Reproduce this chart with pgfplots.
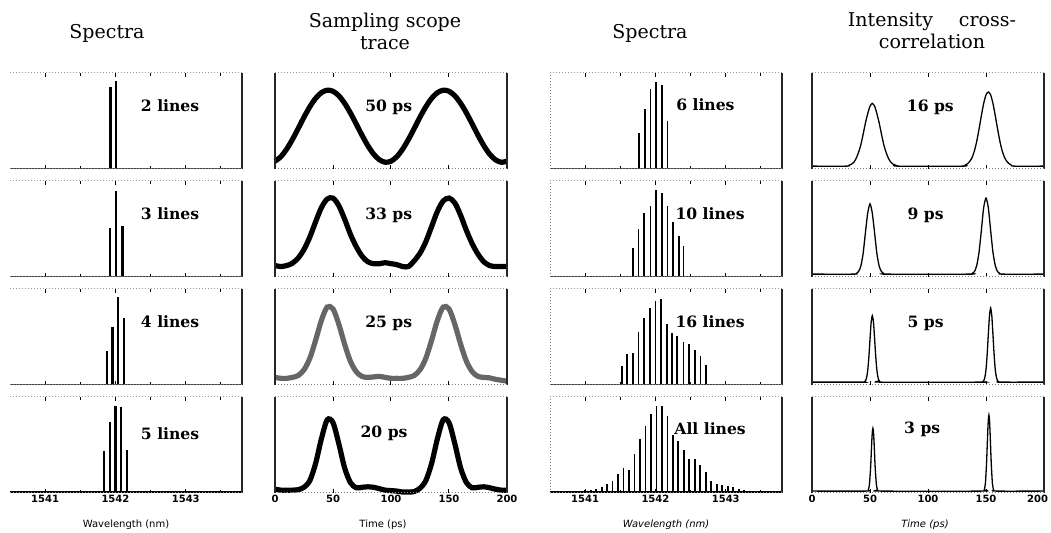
\documentclass[border=0pt]{standalone}
\usepackage{fontspec}
\setmainfont{DejaVu Serif}
\newfontfamily\dvsans{DejaVu Sans}
\usepackage{pgfplots}
\pgfplotsset{compat=1.18}

% one panel = 232 x 96 px of the reference (1 px = 0.5pt)
\pgfplotsset{
  panel/.style={
    scale only axis, width=116pt, height=48pt, anchor=south west,
    ymin=-0.01, ymax=1.0, ytick=\empty,
    axis line style={draw=none},
    tick align=inside, major tick length=2pt, minor tick length=1.5pt,
    tick style={black, line width=0.5pt},
    xticklabel style={font=\dvsans\bfseries\fontsize{5}{6}\selectfont, inner sep=1pt},
    /pgf/number format/assume math mode=true,
    xticklabels={}, clip=false,
  },
  spec/.style={panel, xmin=1540.5, xmax=1543.8, xtick={1541,1542,1543},
    minor xtick={1541.5,1542.5,1543.5}},
  time/.style={panel, xmin=0, xmax=200, xtick={0,50,100,150,200}},
  frR/.style={extra description/.append code={
      \draw[black!85, line width=0.6pt] (1,0) -- (1,1);
      \draw[black!40, densely dotted, line width=0.5pt] (0,1) -- (1,1);
      \draw[black!50, densely dotted, line width=0.5pt] (0,0) -- (1,0);}},
  frL/.style={extra description/.append code={
      \draw[black!85, line width=0.6pt] (0,0) -- (0,1);}},
  frLd/.style={extra description/.append code={
      \draw[black!50, densely dotted, line width=0.5pt] (0,0) -- (0,1);}},
  comb/.style={ycomb, black, line width=0.9pt, mark=none},
  combw/.style={ycomb, black, line width=1.2pt, mark=none},
  base/.style={black!75, line width=0.4pt},
  scope/.style={black, line width=2.6pt, smooth, mark=none},
  xcor/.style={black, line width=0.65pt, smooth, tension=0.4, mark=none},
}
\tikzset{lab/.style={font=\bfseries\fontsize{7.8}{8}\selectfont, inner sep=0pt}}

\begin{document}
\begin{tikzpicture}
\useasboundingbox (0,0) rectangle (525.5pt,266.5pt);

% column titles
\node[font=\fontsize{9.5}{11}\selectfont] at (53.5pt,250pt) {Spectra};
\node[font=\fontsize{9.5}{11}\selectfont, align=center] at (192.5pt,251pt) {Sampling scope\\trace};
\node[font=\fontsize{9.5}{11}\selectfont] at (325pt,250pt) {Spectra};
\node[font=\fontsize{9.5}{11}\selectfont, align=center] at (466pt,251pt) {Intensity\hspace{13pt}cross-\\correlation};

% x labels
\node[font=\dvsans\fontsize{5}{6}\selectfont] at (63pt,4pt) {Wavelength (nm)};
\node[font=\dvsans\fontsize{5}{6}\selectfont] at (191.5pt,4pt) {Time (ps)};
\node[font=\dvsans\itshape\fontsize{5}{6}\selectfont] at (333pt,4pt) {Wavelength (nm)};
\node[font=\dvsans\itshape\fontsize{5}{6}\selectfont] at (462.5pt,4pt) {Time (ps)};

%%%%%%%% column 1: spectra
\begin{axis}[spec, frR, at={(5pt,182pt)}]
\addplot[base] coordinates {(1540.5,0) (1543.8,0)};
\addplot[combw] coordinates {(1541.93,0.85) (1542.01,0.92)};
\node[lab] at (rel axis cs:0.69,0.66) {2 lines};
\end{axis}
\begin{axis}[spec, frR, at={(5pt,128pt)}]
\addplot[base] coordinates {(1540.5,0) (1543.8,0)};
\addplot[combw] coordinates {(1541.92,0.51) (1542.01,0.89) (1542.10,0.53)};
\node[lab] at (rel axis cs:0.69,0.66) {3 lines};
\end{axis}
\begin{axis}[spec, frR, at={(5pt,74pt)}]
\addplot[base] coordinates {(1540.5,0) (1543.8,0)};
\addplot[combw] coordinates {(1541.88,0.35) (1541.96,0.60) (1542.04,0.92) (1542.12,0.70)};
\node[lab] at (rel axis cs:0.69,0.66) {4 lines};
\end{axis}
\begin{axis}[spec, frR, at={(5pt,20pt)}, xticklabels={1541,1542,1543}]
\addplot[black, line width=0.6pt] coordinates {(1540.5,0) (1543.8,0)};
\addplot[combw] coordinates {(1541.84,0.43) (1541.92,0.74) (1542.00,0.91) (1542.08,0.89) (1542.16,0.44)};
\node[lab] at (rel axis cs:0.69,0.62) {5 lines};
\end{axis}

%%%%%%%% column 2: sampling scope trace
\begin{axis}[time, frR, frL, at={(137.5pt,182pt)}]
\addplot[scope] coordinates {
(0,0.072) (5,0.119) (10,0.198) (15,0.300) (20,0.416) (25,0.535) (30,0.644) (35,0.733)
(40,0.793) (45,0.819) (50,0.808) (55,0.761) (60,0.682) (65,0.580) (70,0.464) (75,0.345)
(80,0.236) (85,0.147) (90,0.087) (95,0.061) (100,0.072) (105,0.119) (110,0.198) (115,0.300)
(120,0.416) (125,0.535) (130,0.644) (135,0.733) (140,0.793) (145,0.819) (150,0.808)
(155,0.761) (160,0.682) (165,0.580) (170,0.464) (175,0.345) (180,0.236) (185,0.147)
(190,0.087) (195,0.061) (200,0.072)};
\node[lab] at (rel axis cs:0.49,0.64) {50 ps};
\end{axis}
\begin{axis}[time, frR, frL, at={(137.5pt,128pt)}]
\addplot[scope] coordinates {
(0,0.11) (5,0.10) (10,0.11) (15,0.135) (20,0.19) (25,0.28) (30,0.41) (35,0.57) (40,0.72)
(45,0.81) (50,0.82) (55,0.74) (60,0.60) (65,0.44) (70,0.31) (75,0.21) (80,0.15) (85,0.13)
(90,0.13) (95,0.14) (100,0.13) (105,0.12) (110,0.10) (115,0.10) (120,0.16) (125,0.24)
(130,0.36) (135,0.52) (140,0.68) (145,0.79) (150,0.82) (155,0.77) (160,0.64) (165,0.48)
(170,0.34) (175,0.23) (180,0.15) (185,0.11) (190,0.10) (195,0.10) (200,0.10)};
\node[lab] at (rel axis cs:0.49,0.64) {33 ps};
\end{axis}
\begin{axis}[time, frR, frL, at={(137.5pt,74pt)}]
\addplot[scope, black!60] coordinates {
(0,0.07) (5,0.06) (10,0.06) (15,0.07) (20,0.09) (25,0.15) (30,0.27) (35,0.46) (40,0.67)
(45,0.81) (50,0.79) (55,0.63) (60,0.42) (65,0.24) (70,0.13) (75,0.08) (80,0.07) (85,0.075)
(90,0.08) (95,0.07) (100,0.06) (105,0.06) (110,0.06) (115,0.07) (120,0.09) (125,0.15)
(130,0.27) (135,0.46) (140,0.67) (145,0.81) (150,0.79) (155,0.63) (160,0.42) (165,0.24)
(170,0.13) (175,0.08) (180,0.07) (185,0.065) (190,0.05) (195,0.04) (200,0.03)};
\node[lab] at (rel axis cs:0.49,0.64) {25 ps};
\end{axis}
\begin{axis}[time, frR, frL, at={(137.5pt,20pt)}, xticklabels={0,50,100,150,200}]
\addplot[scope] coordinates {
(0,0.03) (5,0.02) (10,0.02) (15,0.02) (20,0.025) (25,0.05) (30,0.12) (35,0.30) (40,0.56)
(45,0.76) (50,0.73) (55,0.51) (60,0.255) (65,0.10) (70,0.045) (75,0.05) (80,0.055)
(85,0.05) (90,0.035) (95,0.02) (100,0.015) (105,0.01) (110,0.0) (115,0.0) (120,0.005)
(125,0.04) (130,0.12) (135,0.30) (140,0.56) (145,0.76) (150,0.73) (155,0.51) (160,0.255)
(165,0.10) (170,0.045) (175,0.05) (180,0.055) (185,0.045) (190,0.03) (195,0.02) (200,0.02)};
\node[lab] at (rel axis cs:0.47,0.62) {20 ps};
\end{axis}

%%%%%%%% column 3: spectra
\begin{axis}[spec, frR, frLd, at={(275pt,182pt)}]
\addplot[base] coordinates {(1540.5,0) (1543.8,0)};
\addplot[comb] coordinates {(1541.77,0.37) (1541.85,0.62) (1541.93,0.83) (1542.01,0.90)
 (1542.09,0.87) (1542.17,0.49)};
\node[lab] at (rel axis cs:0.67,0.67) {6 lines};
\end{axis}
\begin{axis}[spec, frR, frLd, at={(275pt,128pt)}]
\addplot[base] coordinates {(1540.5,0) (1543.8,0)};
\addplot[comb] coordinates {(1541.68,0.29) (1541.76,0.49) (1541.84,0.66) (1541.93,0.74)
 (1542.01,0.90) (1542.09,0.87) (1542.17,0.74) (1542.25,0.57) (1542.33,0.42) (1542.40,0.32)};
\node[lab] at (rel axis cs:0.69,0.66) {10 lines};
\end{axis}
\begin{axis}[spec, frR, frLd, at={(275pt,74pt)}]
\addplot[base] coordinates {(1540.5,0) (1543.8,0)};
\addplot[comb] coordinates {(1541.52,0.19) (1541.60,0.32) (1541.68,0.33) (1541.76,0.55)
 (1541.84,0.70) (1541.92,0.80) (1542.00,0.87) (1542.08,0.89) (1542.16,0.63) (1542.24,0.54)
 (1542.31,0.51) (1542.40,0.44) (1542.48,0.42) (1542.56,0.36) (1542.64,0.29) (1542.72,0.20)};
\node[lab] at (rel axis cs:0.69,0.66) {16 lines};
\end{axis}
\begin{axis}[spec, frR, frLd, at={(275pt,20pt)}, xticklabels={1541,1542,1543}]
\addplot[black, line width=0.6pt] coordinates {(1540.5,0) (1543.8,0)};
\addplot[comb] coordinates {(1541.000,0.02) (1541.078,0.025) (1541.156,0.035) (1541.234,0.05)
 (1541.312,0.087) (1541.390,0.12) (1541.468,0.19) (1541.546,0.25) (1541.624,0.23)
 (1541.702,0.40) (1541.780,0.56) (1541.858,0.69) (1541.936,0.82) (1542.014,0.91)
 (1542.092,0.91) (1542.170,0.80) (1542.248,0.60) (1542.326,0.54) (1542.404,0.44)
 (1542.482,0.35) (1542.560,0.35) (1542.638,0.28) (1542.716,0.21) (1542.794,0.115)
 (1542.872,0.087) (1542.950,0.07) (1543.028,0.06) (1543.106,0.05) (1543.184,0.035)
 (1543.262,0.025)};
\node[lab] at (rel axis cs:0.69,0.67) {All lines};
\end{axis}

%%%%%%%% column 4: intensity cross-correlation
\begin{axis}[time, frR, frL, at={(406pt,182pt)}]
\addplot[xcor] coordinates {
(0,0.02) (30,0.02) (32,0.03) (34,0.04) (36,0.06) (38,0.10) (40,0.16) (42,0.24) (44,0.35)
(46,0.47) (48,0.57) (50,0.65) (52,0.68) (54,0.65) (56,0.57) (58,0.47) (60,0.35) (62,0.24)
(64,0.16) (66,0.10) (68,0.06) (70,0.04) (72,0.03) (74,0.02) (130,0.02) (132,0.03)
(134,0.045) (136,0.07) (138,0.11) (140,0.18) (142,0.28) (144,0.41) (146,0.55) (148,0.68)
(150,0.77) (152,0.80) (154,0.77) (156,0.68) (158,0.55) (160,0.41) (162,0.28) (164,0.18)
(166,0.11) (168,0.07) (170,0.045) (172,0.03) (174,0.02) (200,0.02)};
\node[lab] at (rel axis cs:0.51,0.64) {16 ps};
\end{axis}
\begin{axis}[time, frR, frL, at={(406pt,128pt)}]
\addplot[xcor] coordinates {
(0,0.02) (36,0.02) (38,0.025) (40,0.045) (42,0.10) (44,0.23) (46,0.45) (48,0.66) (50,0.76)
(52,0.66) (54,0.45) (56,0.23) (58,0.10) (60,0.045) (62,0.025) (64,0.02) (136,0.02)
(138,0.026) (140,0.046) (142,0.11) (144,0.25) (146,0.48) (148,0.72) (150,0.82) (152,0.72)
(154,0.48) (156,0.25) (158,0.11) (160,0.046) (162,0.026) (164,0.02) (200,0.02)};
\node[lab] at (rel axis cs:0.49,0.64) {9 ps};
\end{axis}
\begin{axis}[time, frR, frL, at={(406pt,74pt)}]
\addplot[xcor] coordinates {
(0,0.02) (44,0.02) (45,0.02) (46,0.033) (47,0.063) (48,0.14) (49,0.28) (50,0.47) (51,0.65)
(52,0.72) (53,0.65) (54,0.47) (55,0.28) (56,0.14) (57,0.063) (58,0.033) (59,0.02) (146,0.02)
(147,0.023) (148,0.034) (149,0.07) (150,0.15) (151,0.31) (152,0.52) (153,0.72) (154,0.80)
(155,0.72) (156,0.52) (157,0.31) (158,0.15) (159,0.07) (160,0.034) (161,0.023) (162,0.02)
(200,0.02)};
\node[lab] at (rel axis cs:0.49,0.64) {5 ps};
\end{axis}
\begin{axis}[time, frR, frL, at={(406pt,20pt)},
  xticklabels={0,50,100,150,{\makebox[0pt][r]{200\hspace{-2pt}}}}]
\addplot[xcor] coordinates {
(0,0.01) (47,0.01) (48.5,0.022) (49.5,0.08) (50.5,0.25) (51,0.385) (51.5,0.525) (52,0.63)
(52.5,0.67) (53,0.63) (53.5,0.525) (54,0.385) (54.5,0.25) (55.5,0.08) (56.5,0.022) (58,0.01)
(147,0.01) (148.5,0.024) (149.5,0.094) (150.5,0.31) (151,0.47) (151.5,0.63) (152,0.76)
(152.5,0.81) (153,0.76) (153.5,0.63) (154,0.47) (154.5,0.31) (155.5,0.094) (156.5,0.024)
(158,0.01) (200,0.01)};
\node[lab] at (rel axis cs:0.475,0.66) {3 ps};
\end{axis}
\end{tikzpicture}
\end{document}
